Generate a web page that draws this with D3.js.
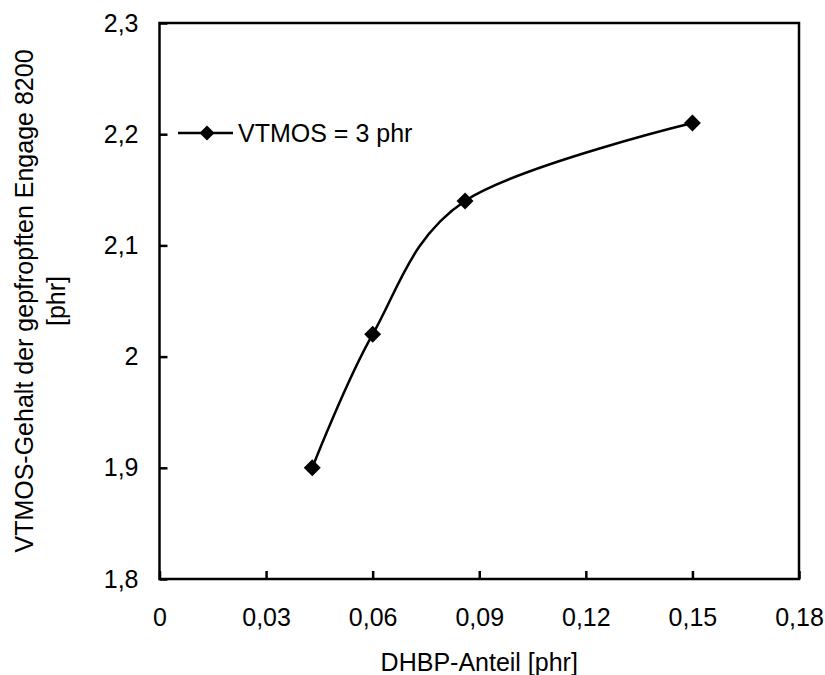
<!DOCTYPE html>
<html>
<head>
<meta charset="utf-8">
<script src="https://cdn.jsdelivr.net/npm/d3@7"></script>
<style>
  body { margin: 0; background: #fff; }
  svg { font-family: "Liberation Sans", Arial, sans-serif; }
</style>
</head>
<body>
<svg id="chart" width="825" height="675"></svg>
<script>
// data
let dhbp = [0.043, 0.06, 0.086, 0.15];
let vtmos = [1.9, 2.02, 2.14, 2.21];
let xTicks = [0, 0.03, 0.06, 0.09, 0.12, 0.15, 0.18];
let yTicks = [1.8, 1.9, 2.0, 2.1, 2.2, 2.3];
let seriesName = "VTMOS = 3 phr";
let xTitle = "DHBP-Anteil [phr]";
let yTitle = ["VTMOS-Gehalt der gepfropften Engage 8200", "[phr]"];

let svg = d3.select("#chart");
let margin = {left: 159.5, right: 26, top: 23, bottom: 96};
let width = 825 - margin.left - margin.right,
    height = 675 - margin.top - margin.bottom;

let de = d3.formatLocale({decimal: ",", thousands: ".", grouping: [3], currency: ["", " €"]});

let x = d3.scaleLinear().domain([0, 0.18]).range([0, width]);
let y = d3.scaleLinear().domain([1.8, 2.3]).range([height, 0]);

let g = svg.append("g").attr("transform", "translate(" + margin.left + "," + margin.top + ")");

let xAxis = g.append("g")
    .attr("transform", "translate(0," + height + ")")
    .call(d3.axisBottom(x).tickValues(xTicks).tickFormat(de.format(".2~f"))
        .tickSizeInner(-8).tickSizeOuter(0).tickPadding(29));

let yAxis = g.append("g")
    .call(d3.axisLeft(y).tickValues(yTicks).tickFormat(de.format(".1~f"))
        .tickSizeInner(-8).tickSizeOuter(0).tickPadding(21));

[xAxis, yAxis].forEach(function(a) {
    a.select(".domain").remove();
    a.selectAll("line").attr("stroke", "#000").attr("stroke-width", 2.5);
    a.selectAll("text").attr("font-size", 25).attr("fill", "#000")
        .attr("font-family", "Liberation Sans, Arial, sans-serif");
});

// plot frame
g.append("rect")
    .attr("width", width).attr("height", height)
    .attr("fill", "none").attr("stroke", "#000").attr("stroke-width", 2.5);

let pts = dhbp.map(function(d, i) { return [d, vtmos[i]]; });

let line = d3.line()
    .x(function(d) { return x(d[0]); })
    .y(function(d) { return y(d[1]); })
    .curve(d3.curveCardinal.tension(0));

g.append("path")
    .datum(pts)
    .attr("d", line)
    .attr("fill", "none").attr("stroke", "#000").attr("stroke-width", 2.5);

let diamond = d3.symbol().type(d3.symbolSquare).size(144);

g.selectAll(".pt")
    .data(pts)
    .enter().append("path")
    .attr("class", "pt")
    .attr("d", diamond)
    .attr("transform", function(d) { return "translate(" + x(d[0]) + "," + y(d[1]) + ") rotate(45)"; })
    .attr("fill", "#000");

// legend
let leg = svg.append("g").attr("transform", "translate(178,133)");
leg.append("line").attr("x1", 0).attr("x2", 55).attr("y1", 0).attr("y2", 0)
    .attr("stroke", "#000").attr("stroke-width", 2.5);
leg.append("path").attr("d", d3.symbol().type(d3.symbolSquare).size(113))
    .attr("transform", "translate(29,0) rotate(45)").attr("fill", "#000");
leg.append("text").attr("x", 60).attr("y", 9).attr("font-size", 25).text(seriesName);

// axis titles
svg.append("text")
    .attr("x", margin.left + width / 2).attr("y", 671)
    .attr("text-anchor", "middle").attr("font-size", 25)
    .text(xTitle);

let yt = svg.append("text")
    .attr("transform", "translate(0," + (margin.top + height / 2) + ") rotate(-90)")
    .attr("text-anchor", "middle").attr("font-size", 25);
yt.selectAll("tspan")
    .data(yTitle)
    .enter().append("tspan")
    .attr("x", 0)
    .attr("y", function(d, i) { return 33 + i * 32; })
    .text(function(d) { return d; });
</script>
</body>
</html>
